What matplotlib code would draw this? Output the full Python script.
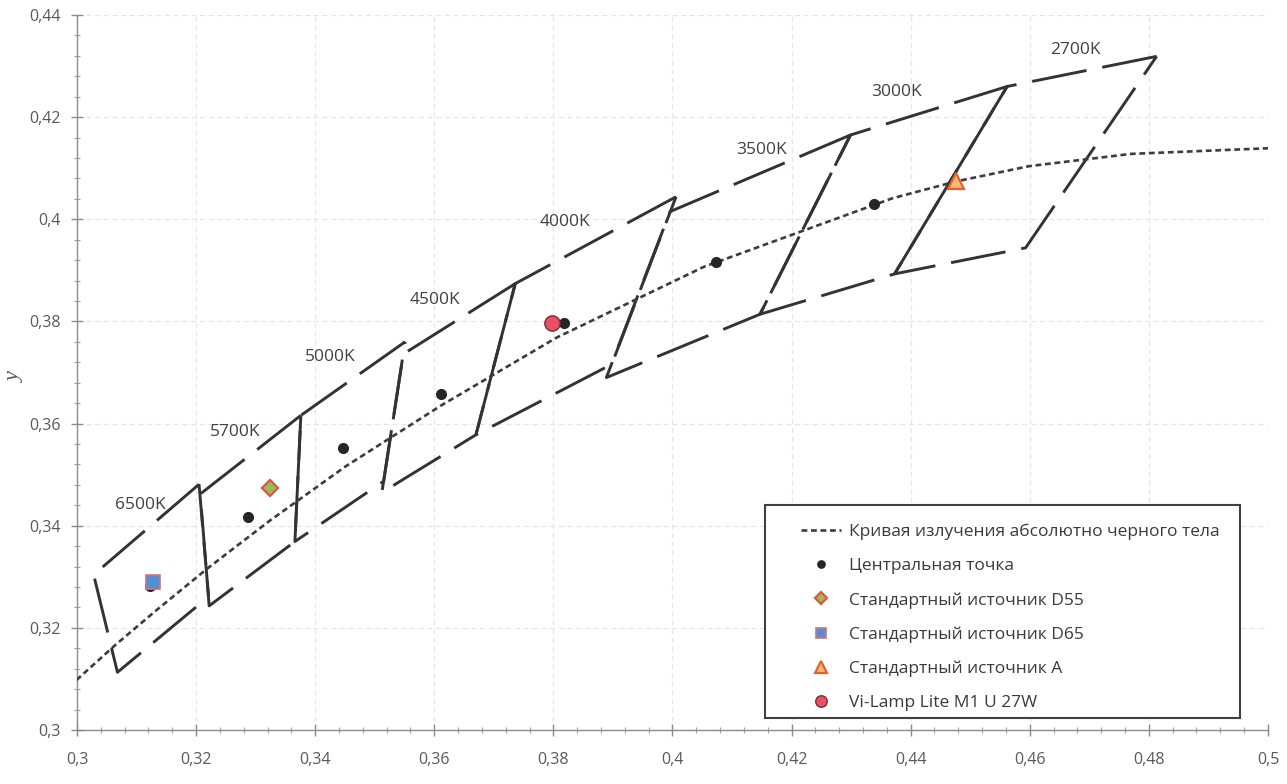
import matplotlib.pyplot as plt
from matplotlib.patches import Rectangle
from matplotlib.ticker import MultipleLocator, FuncFormatter

# ANSI C78.377 quadrangles: corners listed round each box (TR, TL, BL, BR)
cct_names = ['6500K', '5700K', '5000K', '4500K', '4000K', '3500K', '3000K', '2700K']
quad_x = [
    [0.3205, 0.3028, 0.3068, 0.3221],
    [0.3376, 0.3207, 0.3222, 0.3366],
    [0.3551, 0.3376, 0.3366, 0.3515],
    [0.3736, 0.3548, 0.3512, 0.3670],
    [0.4006, 0.3736, 0.3670, 0.3898],
    [0.4299, 0.3996, 0.3889, 0.4147],
    [0.4562, 0.4299, 0.4147, 0.4373],
    [0.4813, 0.4562, 0.4373, 0.4593],
]
quad_y = [
    [0.3481, 0.3304, 0.3113, 0.3261],
    [0.3616, 0.3462, 0.3243, 0.3369],
    [0.3760, 0.3616, 0.3369, 0.3487],
    [0.3874, 0.3736, 0.3465, 0.3578],
    [0.4044, 0.3874, 0.3578, 0.3716],
    [0.4165, 0.4015, 0.3690, 0.3814],
    [0.4260, 0.4165, 0.3814, 0.3893],
    [0.4319, 0.4260, 0.3893, 0.3944],
]

# centre points of the boxes
center_x = [0.3123, 0.3287, 0.3447, 0.3611, 0.3818, 0.4073, 0.4338]
center_y = [0.3282, 0.3417, 0.3553, 0.3658, 0.3797, 0.3917, 0.4030]

# Planckian locus
locus_x = [0.2952, 0.3064, 0.3135, 0.3221, 0.3324, 0.3451, 0.3611, 0.3805,
           0.4053, 0.4369, 0.4476, 0.4599, 0.4770, 0.5020, 0.5100]
locus_y = [0.3048, 0.3166, 0.3236, 0.3318, 0.3410, 0.3516, 0.3635, 0.3768,
           0.3907, 0.4041, 0.4074, 0.4104, 0.4128, 0.4140, 0.4142]

# reference sources and the measured lamp
d55_x, d55_y = [0.3324], [0.3474]
d65_x, d65_y = [0.3127], [0.3290]
a_x, a_y = [0.4476], [0.4074]
lamp_x, lamp_y = [0.3797], [0.3796]

# where the CCT captions sit
label_x = [0.3106, 0.3265, 0.3425, 0.3601, 0.3819, 0.4150, 0.4377, 0.4676]
label_y = [0.3441, 0.3583, 0.3730, 0.3842, 0.3995, 0.4136, 0.4249, 0.4331]

font = ['Open Sans', 'DejaVu Sans']
plt.rcParams['font.family'] = font

fig = plt.figure(figsize=(12.87, 7.84), dpi=100)
ax = fig.add_axes([0.0598, 0.0689, 0.9254, 0.9120])

line_col = '#333333'
for qx, qy in zip(quad_x, quad_y):
    ax.plot(qx + qx[:1], qy + qy[:1], color=line_col, lw=2.1,
            dashes=(19, 5.5), solid_capstyle='butt', zorder=3)

ax.plot(locus_x, locus_y, color='#3c3c3c', lw=1.9, dashes=(2.2, 1.4),
        label='Кривая излучения абсолютно черного тела', zorder=4)
ax.plot(center_x, center_y, 'o', color='#262626', ms=7, ls='none',
        label='Центральная точка', zorder=5)
ax.plot(d55_x, d55_y, 'D', mfc='#9bbb59', mec='#e0543c', mew=1.6, ms=8,
        ls='none', label='Стандартный источник D55', zorder=6)
ax.plot(d65_x, d65_y, 's', mfc='#4f8fd6', mec='#d9707a', mew=1.2, ms=10,
        ls='none', label='Стандартный источник D65', zorder=6)
ax.plot(a_x, a_y, '^', mfc='#f8b878', mec='#e8602c', mew=1.6, ms=12,
        ls='none', label='Стандартный источник A', zorder=6)
ax.plot(lamp_x, lamp_y, 'o', mfc='#e8506a', mec='#7a2a30', mew=1.0, ms=11,
        ls='none', label='Vi-Lamp Lite M1 U 27W', zorder=7)

for name, lx, ly in zip(cct_names, label_x, label_y):
    ax.text(lx, ly, name, fontsize=12.5, color='#404040', ha='center', va='center')

ax.set_xlim(0.3, 0.5)
ax.set_ylim(0.30, 0.44)
ax.xaxis.set_major_locator(MultipleLocator(0.02))
ax.xaxis.set_minor_locator(MultipleLocator(0.004))
ax.yaxis.set_major_locator(MultipleLocator(0.02))
ax.yaxis.set_minor_locator(MultipleLocator(0.004))
comma = FuncFormatter(lambda v, pos: f'{v:.2f}'.rstrip('0').replace('.', ','))
ax.xaxis.set_major_formatter(comma)
ax.yaxis.set_major_formatter(comma)

ax.grid(True, which='major', color='#e6e6e6', lw=0.9, ls=(0, (4, 3)), zorder=0)
for side in ('top', 'right'):
    ax.spines[side].set_visible(False)
for side in ('left', 'bottom'):
    ax.spines[side].set_color('#8c8c8c')
    ax.spines[side].set_linewidth(1.0)
ax.tick_params(which='major', direction='inout', length=8, width=1.0,
               color='#8c8c8c', labelcolor='#595959', labelsize=11.5)
ax.tick_params(axis='x', which='major', pad=12)
ax.tick_params(axis='y', which='major', pad=8)
ax.tick_params(which='minor', direction='inout', length=4, width=0.8,
               color='#a0a0a0')

fig.text(15 / 1287, 1 - 377 / 784, 'y', family='Liberation Serif',
         style='italic', fontsize=16, color='#595959', rotation=90,
         ha='center', va='center')

# legend box is drawn by hand so the padding can differ per side
ax.add_patch(Rectangle((0.5777, 0.0168), 0.3988, 0.2979, transform=ax.transAxes,
                       facecolor='white', edgecolor='#404040', lw=1.5, zorder=8))
leg = ax.legend(loc='upper left', bbox_to_anchor=(0.6080, 0.2880),
                fontsize=12.5, frameon=False, markerscale=0.75,
                labelspacing=1.02, handlelength=2.3, handletextpad=0.45,
                borderpad=0, borderaxespad=0)
leg.set_zorder(9)
for t in leg.get_texts():
    t.set_color('#3a3a3a')

fig.savefig('out.png', dpi=100)
